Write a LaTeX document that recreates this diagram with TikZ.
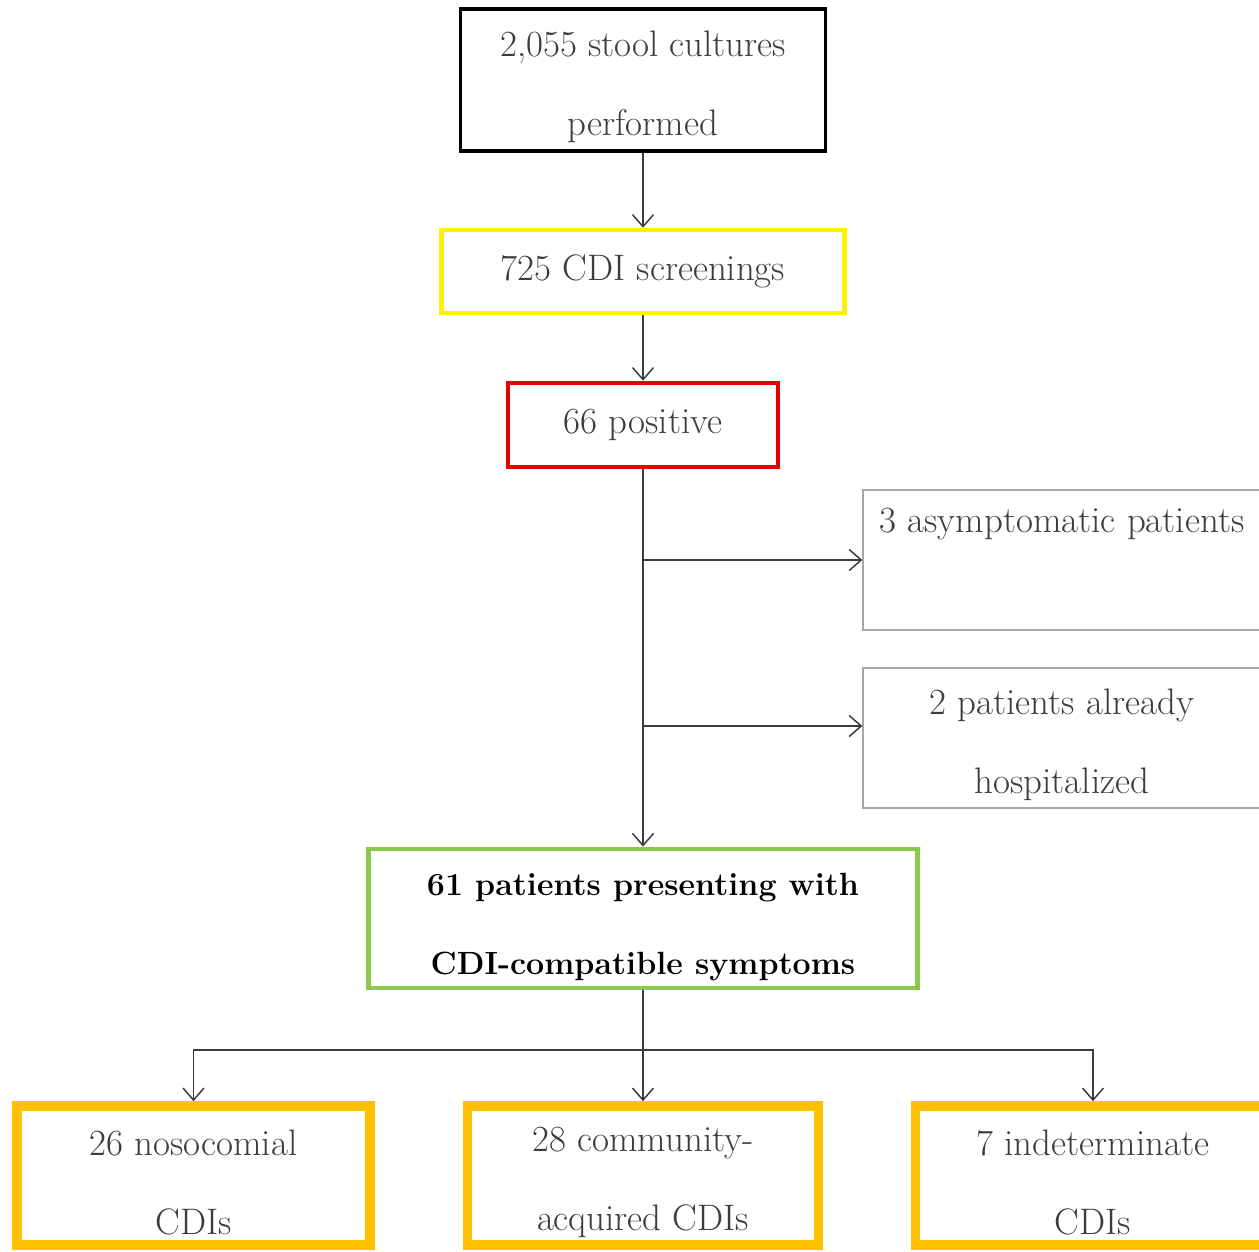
\documentclass[tikz,border=0pt]{standalone}
\usepackage{xcolor}
\usepackage{tikz}
\usetikzlibrary{arrows.meta}

\definecolor{boxyellow}{RGB}{255,240,0}
\definecolor{boxred}{RGB}{232,0,0}
\definecolor{boxgreen}{RGB}{140,200,75}
\definecolor{boxorange}{RGB}{255,192,0}
\definecolor{txtgray}{RGB}{60,60,60}

\newcommand{\topgap}{\rule{0pt}{0.78cm}}

\begin{document}
\begin{tikzpicture}[
  x=0.02cm, y=-0.02cm,
  every node/.style={font=\fontsize{21}{45}\selectfont, text=txtgray, align=center},
  box/.style={draw, minimum width=#1, inner sep=0pt},
  flowbox/.style={box=#1, minimum height=2.8cm},
  arr/.style={-{Straight Barb[length=0.24cm,width=0.42cm]}, draw=txtgray, line width=0.85pt},
  lnk/.style={draw=txtgray, line width=0.85pt}
]
  \useasboundingbox (0,0) rectangle (1259,1252);

  \node[box=7.3cm, minimum height=2.84cm, line width=1.8pt] (cult) at (643,80)
    {\topgap 2,055 stool cultures\\performed};
  \node[box=8.06cm, minimum height=1.66cm, draw=boxyellow, line width=2.6pt] (scr) at (643,271.5)
    {\raisebox{0.12cm}{725 CDI screenings}};
  \node[box=5.4cm, minimum height=1.68cm, draw=boxred, line width=2.6pt] (pos) at (643,425)
    {\raisebox{0.1cm}{66 positive}};
  \node[flowbox=7.96cm, draw=gray!70, line width=0.8pt] (asym) at (1062,560)
    {3 asymptomatic patients\\\mbox{}};
  \node[flowbox=7.96cm, draw=gray!70, line width=0.8pt] (hosp) at (1062,738)
    {\topgap 2 patients already\\hospitalized};
  \node[flowbox=10.98cm, minimum height=2.78cm, draw=boxgreen, line width=2.8pt,
        text=black, font=\fontsize{18.3}{45}\selectfont\bfseries] (symp) at (643,918.5)
    {\topgap 61 patients presenting with\\CDI-compatible symptoms};
  \node[flowbox=7.06cm, minimum height=2.78cm, draw=boxorange, line width=5.5pt] (noso) at (193.5,1175.5)
    {\topgap 26 nosocomial\\CDIs};
  \node[flowbox=7.02cm, minimum height=2.78cm, draw=boxorange, line width=5.5pt] (comm) at (643,1175.5)
    {\topgap 28 community-\\acquired CDIs};
  \node[flowbox=7.1cm, minimum height=2.78cm, draw=boxorange, line width=5.5pt] (inde) at (1093,1175.5)
    {\topgap 7 indeterminate\\CDIs};

  \coordinate (hospin) at ([yshift=0.24cm]hosp.west);
  \coordinate (split) at (643,1050);

  \draw[arr] (cult.south) -- (scr.north);
  \draw[arr] (scr.south) -- (pos.north);
  \draw[arr] (pos.south) -- (symp.north);
  \draw[arr] (pos.south |- asym.west) -- (asym.west);
  \draw[arr] (pos.south |- hospin) -- (hospin);
  \draw[lnk] (symp.south) -- (split);
  \draw[arr] (split) -| (noso.north);
  \draw[arr] (split) -- (comm.north);
  \draw[arr] (split) -| (inde.north);
\end{tikzpicture}
\end{document}
